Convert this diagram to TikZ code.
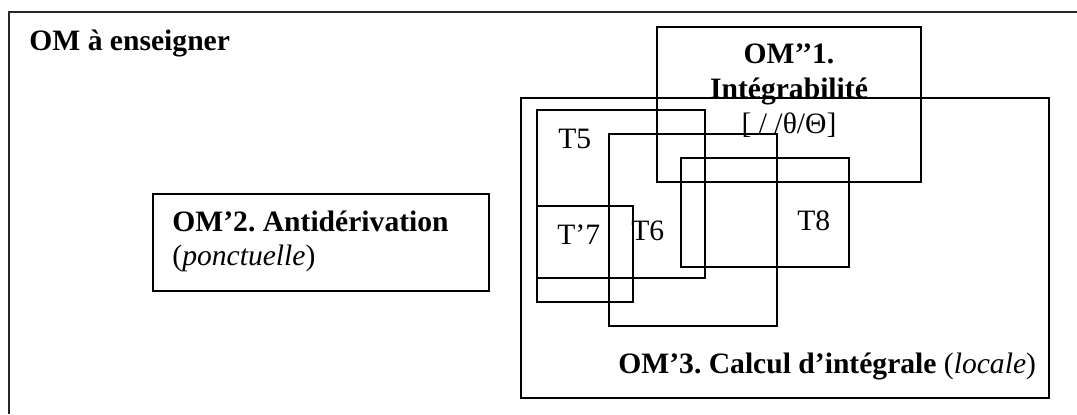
\documentclass[tikz,border=0pt]{standalone}
\usepackage{fontspec}
\setmainfont{Liberation Serif}
\frenchspacing
\begin{document}
\begin{tikzpicture}[x=0.5pt,y=-0.5pt,
  box/.style={draw=black,line width=1pt},
  frame/.style={draw=black!85,line width=1pt},
  lbl/.style={inner sep=0pt,anchor=base west,font=\fontsize{14.8pt}{17pt}\selectfont},
  clbl/.style={inner sep=0pt,anchor=base,font=\fontsize{14.8pt}{17pt}\selectfont}]
\useasboundingbox (0,0) rectangle (1077,414);
% outer frame (cut at right and bottom)
\coordinate (fbl) at (9,414);
\coordinate (ftl) at (9,12);
\coordinate (ftr) at (1077,12);
\draw[frame] (fbl) -- (ftl) -- (ftr);
% boxes
\draw[box] (153,194) rectangle (489,291);
\draw[box] (521,98) rectangle (1049,398);
\draw[box] (657,27) rectangle (921,182);
\draw[box] (537,110) rectangle (705,278);
\draw[box] (609,134) rectangle (777,326);
\draw[box] (681,158) rectangle (849,267);
\draw[box] (537,206) rectangle (633,302);
% texts
\node[lbl] (ens) at (29,50) {\bfseries OM à enseigner};
\node[clbl] (om1a) at (789,63) {\bfseries OM’’1.};
\node[clbl] (om1b) at (789,98) {\bfseries Intégrabilité};
\node[clbl] (om1c) at (789,133) {[ / /θ/Θ]};
\node[lbl] (om2a) at (172,231) {\bfseries OM’2. Antidérivation};
\node[lbl] (om2b) at (172,265) {(\textit{ponctuelle})};
\node[lbl] (om3) at (618,373) {\textbf{OM’3. Calcul d’intégrale} (\textit{locale})};
\node[lbl] (t5) at (558,148) {T5};
\node[lbl] (t6) at (631,240) {T6};
\node[lbl] (t7) at (557,244) {T’7};
\node[lbl] (t8) at (797,230) {T8};
\end{tikzpicture}
\end{document}
